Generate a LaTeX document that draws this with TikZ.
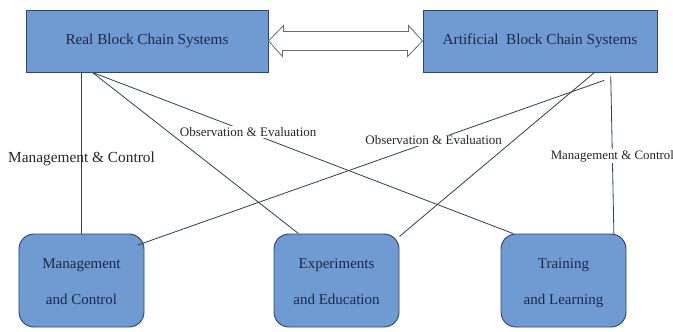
\documentclass[tikz,border=0pt]{standalone}
\usepackage{fontspec}
\setmainfont{Liberation Serif}
\usepackage{xcolor}
\usepackage{tikz}

\definecolor{boxblue}{RGB}{112,154,210}
\definecolor{boxline}{RGB}{46,70,104}
\definecolor{boxtext}{RGB}{28,42,72}
\definecolor{wirecol}{RGB}{52,66,76}
\definecolor{arrowline}{RGB}{92,112,128}

\newcommand{\boxtop}{\rule{0pt}{13.8pt}}

\tikzset{
  topbox/.style={rectangle,draw=boxline,line width=0.8pt,fill=boxblue,text=boxtext,
    minimum height=1.86cm,font=\fontsize{13}{15}\selectfont},
  botbox/.style={rectangle,rounded corners=0.45cm,draw=boxline,line width=0.8pt,fill=boxblue,
    text=boxtext,minimum width=3.75cm,minimum height=2.79cm,align=center,
    font=\fontsize{12.8}{30.7}\selectfont},
  wire/.style={draw=wirecol,line width=0.7pt},
  lab/.style={fill=white,inner sep=1pt,text=black!85,font=\fontsize{11.1}{13}\selectfont}
}

\begin{document}
\begin{tikzpicture}[x=0.03cm,y=-0.03cm]
\useasboundingbox (0,0) rectangle (673,331);
\node (1) at (147,41) [topbox,minimum width=7.26cm] {Real Block Chain Systems};
\node (2) at (540,41) [topbox,minimum width=7.02cm] {Artificial\ \ Block Chain Systems};
\node (3) at (81.5,280.5) [botbox] {\boxtop Management\\and Control\vphantom{g}};
\node (4) at (336.5,280.5) [botbox] {\boxtop Experiments\\and Education\vphantom{g}};
\node (5) at (563.5,280.5) [botbox] {\boxtop Training\\and Learning\vphantom{g}};
\draw[fill=white,draw=arrowline,line width=0.7pt] (1.east) -- ++(15,-15.5) -- ++(0,6) -- ++(125,0)
  -- ++(0,-6) -- (2.west) -- ++(-15,15.5) -- ++(0,-6) -- ++(-125,0) -- ++(0,6) -- cycle;
\draw[wire] (3.north) -- (3.north |- 1.south)
  node[pos=0.463,text=black!85,font=\fontsize{13.1}{15}\selectfont] {Management \& Control};
\draw[wire] (1.210) -- (5.137) node[lab,pos=0.37] {Observation \& Evaluation};
\draw[wire] (1.210) -- (4.129);
\draw[wire,shorten <=0.71cm,shorten >=-0.22cm] (2.-20) -- (3.31)
  node[lab,pos=0.4] {Observation \& Evaluation};
\draw[wire] (2.-30) -- (4.35);
\draw[wire,shorten <=0.12cm] (2.-24) -- (5.43)
  node[lab,pos=0.52,font=\fontsize{11}{13}\selectfont] {Management \& Control};
\end{tikzpicture}
\end{document}
